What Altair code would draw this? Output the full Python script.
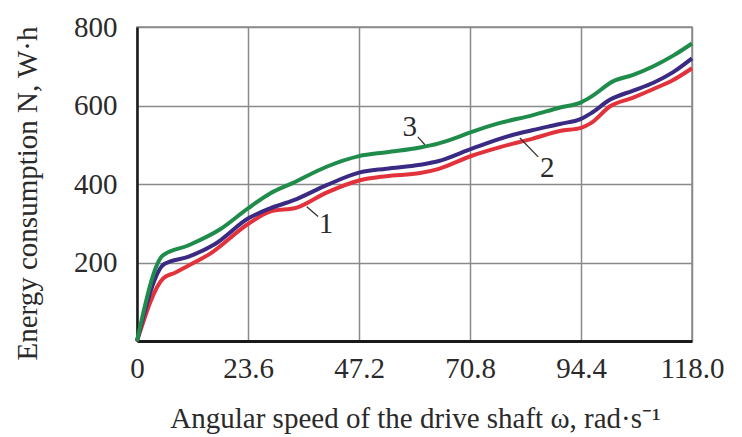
import altair as alt
import pandas as pd

# Curve 3 (green)
x3 = [0, 5.5, 11, 17.6, 23.6, 28.3, 33.2, 40.3, 47.2, 53.1, 60.2, 64, 67.2, 71.2, 77, 84, 90, 94.4, 96.5, 101.3, 105.5, 109.8, 114, 118]
y3 = [0, 218, 244, 284, 338, 376, 403, 444, 471, 481, 493, 503, 515, 533, 555, 575, 595, 608, 622, 662, 678, 700, 727, 758]

# Curve 2 (blue)
x2 = [0, 5.8, 11, 16.6, 23.6, 28.3, 33.2, 40.3, 47.2, 53, 60.2, 64, 71.2, 79.3, 84, 89.9, 94.4, 96.5, 100.6, 105.5, 109.8, 114, 118]
y2 = [0, 196, 215, 247, 312, 338, 358, 397, 429, 439, 449, 458, 490, 523, 537, 553, 566, 580, 615, 638, 658, 685, 720]

# Curve 1 (red)
x1 = [0, 5.6, 8.1, 10.6, 15.5, 23.6, 28.3, 34, 40.3, 47.2, 53, 60.2, 64, 71.2, 77.2, 84, 89.9, 94.4, 96.5, 100.6, 105.5, 109.8, 114, 118]
y1 = [0, 160, 174, 190, 222, 298, 330, 340, 378, 409, 420, 428, 438, 472, 494, 515, 535, 543, 555, 598, 620, 642, 665, 695]

curve_names = ["1", "2", "3"]
curve_colors = ["#e2323c", "#3b2a84", "#1f8c4c"]

# Curve labels and leader lines
lab_text = ["1", "3", "2"]
lab_x = [40.2, 58.0, 87.2]
lab_y = [298, 545, 441]
lead_x1 = [36.1, 59.7, 81.4]
lead_y1 = [342, 520, 517]
lead_x2 = [38.5, 61.2, 85.3]
lead_y2 = [317, 500, 469]

x_ticks = [0, 23.6, 47.2, 70.8, 94.4, 118.0]
y_ticks = [200, 400, 600, 800]

rows = []
for name, xs, ys in [("1", x1, y1), ("2", x2, y2), ("3", x3, y3)]:
    for i, (a, b) in enumerate(zip(xs, ys)):
        rows.append({"curve": name, "w": a, "N": b, "order": i})
df = pd.DataFrame(rows)

labels = pd.DataFrame({"t": lab_text, "x": lab_x, "y": lab_y})
leaders = pd.DataFrame({"x": lead_x1, "y": lead_y1, "x2": lead_x2, "y2": lead_y2})

FONT = "Liberation Serif"
TXT = "#2a2a2a"

xscale = alt.Scale(domain=[0, 118], nice=False, zero=False)
yscale = alt.Scale(domain=[0, 800], nice=False)

xaxis = alt.Axis(
    values=x_ticks,
    labelExpr="datum.value == 0 ? '0' : format(datum.value, '.1f')",
    title="Angular speed of the drive shaft ω, rad·s⁻¹",
    titleFont=FONT, titleFontSize=29, titleFontWeight="normal", titleColor=TXT,
    titleX=278, titleY=86, titleBaseline="alphabetic", titleAlign="center",
    labelFont=FONT, labelFontSize=29, labelColor=TXT, labelPadding=13,
    labelFlush=False, labelOverlap=False,
    tickSize=0, domainColor="#1a1a1a", domainWidth=3,
    grid=True, gridColor="#8a8a8a", gridWidth=1.5,
)
yaxis = alt.Axis(
    values=y_ticks,
    title="Energy consumption N, W·h",
    titleFont=FONT, titleFontSize=29, titleFontWeight="normal", titleColor=TXT,
    titleX=-101, titleY=166, titleAngle=-90, titleBaseline="alphabetic", titleAlign="center",
    labelFont=FONT, labelFontSize=29, labelColor=TXT, labelPadding=20,
    labelOverlap=False,
    tickSize=0, domainColor="#1a1a1a", domainWidth=2.5,
    grid=True, gridColor="#8a8a8a", gridWidth=1.5,
)

lines = alt.Chart(df).mark_line(strokeWidth=4, interpolate="monotone").encode(
    x=alt.X("w:Q", scale=xscale, axis=xaxis),
    y=alt.Y("N:Q", scale=yscale, axis=yaxis),
    color=alt.Color("curve:N", scale=alt.Scale(domain=curve_names, range=curve_colors), legend=None),
    order="order:Q",
)

lead = alt.Chart(leaders).mark_rule(color="#333333", strokeWidth=1.3).encode(
    x=alt.X("x:Q", scale=xscale), y=alt.Y("y:Q", scale=yscale),
    x2="x2:Q", y2="y2:Q",
)

txt = alt.Chart(labels).mark_text(font=FONT, fontSize=29, color=TXT, baseline="middle", align="center").encode(
    x=alt.X("x:Q", scale=xscale), y=alt.Y("y:Q", scale=yscale), text="t:N",
)

chart = alt.layer(lines, lead, txt).properties(
    width=555, height=314,
    autosize=alt.AutoSizeParams(type="none"),
    padding={"left": 137, "top": 27, "right": 50, "bottom": 96},
    background="white",
).configure_view(stroke="#8a8a8a", strokeWidth=1.5)

chart.save("out.html", embed_options={"renderer": "svg", "actions": False})
